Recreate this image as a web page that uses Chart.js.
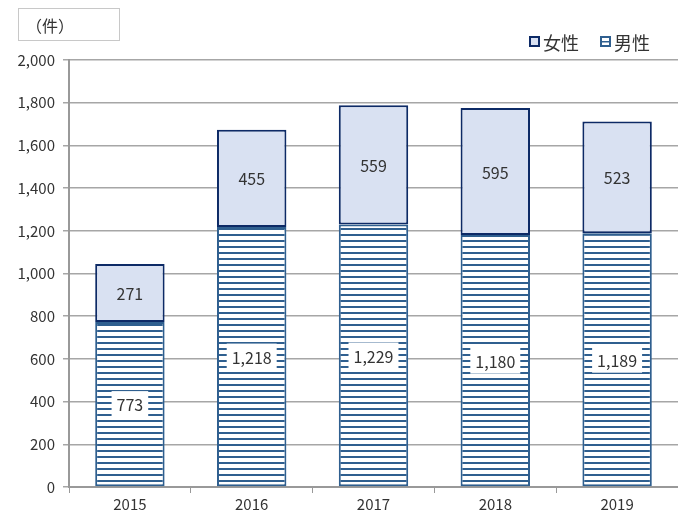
<!DOCTYPE html>
<html>
<head>
<meta charset="utf-8">
<script src="https://cdn.jsdelivr.net/npm/chart.js@4"></script>
<style>
  html, body { margin: 0; padding: 0; background: #fff; }
  #wrap { position: relative; width: 678px; height: 516px; }
</style>
</head>
<body>
<div id="wrap"><canvas id="chart" width="678" height="516"></canvas></div>
<script>
// === Data ===
var years = ['2015', '2016', '2017', '2018', '2019'];
var male = [773, 1218, 1229, 1180, 1189];
var female = [271, 455, 559, 595, 523];
var seriesNames = ['女性', '男性'];
var unitLabel = '（件）';

var FONT = '"Noto Sans CJK JP", "Liberation Sans", sans-serif';

// horizontal stripe pattern for 男性
function stripePattern() {
    var c = document.createElement('canvas');
    c.width = 8; c.height = 6;
    var g = c.getContext('2d');
    g.fillStyle = '#ffffff';
    g.fillRect(0, 0, 8, 6);
    g.fillStyle = '#2f5f8f';
    g.fillRect(0, 0, 8, 2);
    return g.createPattern(c, 'repeat');
}

// labels + unit box + legend
var overlay = {
    id: 'overlay',
    afterDatasetsDraw: function(chart) {
        var ctx = chart.ctx;
        ctx.save();
        ctx.font = '16px ' + FONT;
        ctx.textAlign = 'center';
        ctx.textBaseline = 'middle';
        chart.data.datasets.forEach(function(ds, di) {
            var meta = chart.getDatasetMeta(di);
            meta.data.forEach(function(bar, i) {
                var y = (bar.y + bar.base) / 2;
                var txt = ds.data[i].toLocaleString('en-US');
                if (ds.label === '男性') {
                    var w = ctx.measureText(txt).width + 10;
                    ctx.fillStyle = '#ffffff';
                    ctx.fillRect(bar.x - w / 2, y - 13, w, 26);
                }
                ctx.fillStyle = '#333333';
                ctx.fillText(txt, bar.x, y + 1);
            });
        });
        ctx.restore();
    },
    afterDraw: function(chart) {
        var ctx = chart.ctx;
        ctx.save();
        // unit box
        ctx.strokeStyle = '#c8c8c8';
        ctx.lineWidth = 1;
        ctx.strokeRect(18.5, 8.5, 101, 32);
        ctx.fillStyle = '#333333';
        ctx.font = '16px ' + FONT;
        ctx.textBaseline = 'middle';
        ctx.textAlign = 'left';
        ctx.fillText(unitLabel, 26, 26);

        // legend
        ctx.font = '18px ' + FONT;
        // 女性
        ctx.fillStyle = '#d9e1f2';
        ctx.fillRect(530, 37, 9, 9);
        ctx.strokeStyle = '#0d2a66';
        ctx.lineWidth = 2;
        ctx.strokeRect(530, 37, 9, 9);
        ctx.fillStyle = '#333333';
        ctx.fillText(seriesNames[0], 543, 43);
        // 男性
        ctx.fillStyle = '#ffffff';
        ctx.fillRect(601, 37, 9, 9);
        ctx.strokeStyle = '#2f5f8f';
        ctx.strokeRect(601, 37, 9, 9);
        ctx.fillStyle = '#2f5f8f';
        ctx.fillRect(602, 41, 7, 1.5);
        ctx.fillStyle = '#333333';
        ctx.fillText(seriesNames[1], 614, 43);
        ctx.restore();
    }
};

var ctx = document.getElementById('chart').getContext('2d');
new Chart(ctx, {
    type: 'bar',
    data: {
        labels: years,
        datasets: [
            {
                label: '男性',
                data: male,
                backgroundColor: stripePattern(),
                borderColor: '#2f5f8f',
                borderWidth: 2,
                borderSkipped: false,
                barPercentage: 0.57,
                categoryPercentage: 1.0
            },
            {
                label: '女性',
                data: female,
                backgroundColor: '#d9e1f2',
                borderColor: '#0d2a66',
                borderWidth: 2,
                borderSkipped: false,
                barPercentage: 0.57,
                categoryPercentage: 1.0
            }
        ]
    },
    options: {
        responsive: false,
        animation: false,
        layout: { padding: { top: 60, right: -3, left: 0, bottom: 0 } },
        plugins: {
            legend: { display: false },
            tooltip: { enabled: false }
        },
        scales: {
            x: {
                stacked: true,
                afterFit: function(s) { s.height = 29; },
                grid: { drawOnChartArea: false, drawTicks: true, tickLength: 6, color: '#999999', offset: true },
                border: { color: '#999999', width: 2 },
                ticks: { color: '#333333', font: { family: FONT, size: 15 }, padding: 2 }
            },
            y: {
                stacked: true,
                min: 0,
                max: 2000,
                afterFit: function(s) { s.width = 69; },
                ticks: {
                    stepSize: 200,
                    color: '#333333',
                    font: { family: FONT, size: 15 },
                    padding: 8,
                    callback: function(v) { return v.toLocaleString('en-US'); }
                },
                grid: { color: '#a6a6a6', lineWidth: 1.5, tickLength: 6 },
                border: { color: '#999999', width: 2 }
            }
        }
    },
    plugins: [overlay]
});
</script>
</body>
</html>
